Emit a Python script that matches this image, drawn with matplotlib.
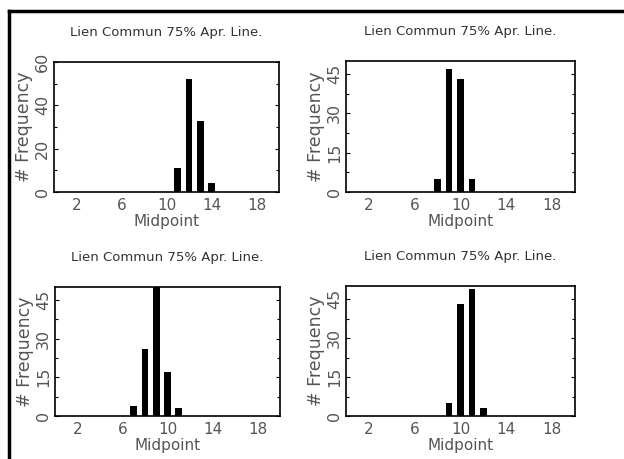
"""Four small midpoint histograms, IDL-style, 'Lien Commun 75% Apr. Line.'"""

import matplotlib
matplotlib.use("Agg")
import matplotlib.pyplot as plt
from matplotlib.lines import Line2D
from matplotlib.ticker import AutoMinorLocator

TITLE = "Lien Commun 75% Apr. Line."
XTICKS = [2, 6, 10, 14, 18]

# bar midpoints and frequencies, one pair per panel
mid_tl = [11, 12, 13, 14]
freq_tl = [11, 52, 33, 4]
mid_tr = [8, 9, 10, 11]
freq_tr = [5, 47, 43, 5]
mid_bl = [7, 8, 9, 10, 11]
freq_bl = [4, 26, 53, 17, 3]
mid_br = [9, 10, 11, 12]
freq_br = [5, 43, 49, 3]

yticks_tl = [0, 20, 40, 60]
yticks_rest = [0, 15, 30, 45]

W, H = 624, 459
TXT = "#555555"


def px_box(x0, y0, x1, y1):
    # pixel box (top-left origin) -> figure fraction rect
    return [x0 / W, 1 - y1 / H, (x1 - x0) / W, (y1 - y0) / H]


def panel(fig, box, mids, freqs, yticks, ylim):
    ax = fig.add_axes(px_box(*box))
    ax.bar(mids, freqs, width=0.58, color="black", linewidth=0)
    ax.set_xlim(0, 20)
    ax.set_ylim(*ylim)
    ax.set_xticks(XTICKS)
    ax.set_yticks(yticks)
    ax.yaxis.set_minor_locator(AutoMinorLocator(2))
    ax.tick_params(axis="y", which="both", direction="in", left=True, right=True,
                   labelsize=11.5, labelcolor=TXT, length=3, width=0.8, pad=3)
    ax.tick_params(axis="y", which="minor", length=2)
    ax.tick_params(axis="x", length=0, labelsize=11, labelcolor=TXT, pad=4)
    for lbl in ax.get_yticklabels():
        lbl.set_rotation(90)
        lbl.set_va("center")
    for sp in ax.spines.values():
        sp.set_linewidth(1.2)
    ax.set_xlabel("Midpoint", fontsize=11, color=TXT, labelpad=1)
    ax.set_ylabel("# Frequency", fontsize=12.5, color=TXT, labelpad=1)
    ax.set_title(TITLE, fontsize=9.5, color="#333333", pad=19)
    return ax


def main():
    fig = plt.figure(figsize=(6.24, 4.59), dpi=100)
    fig.patch.set_facecolor("white")

    panel(fig, (54, 62, 279, 192), mid_tl, freq_tl, yticks_tl, (0, 60))
    panel(fig, (346, 61, 575, 192), mid_tr, freq_tr, yticks_rest, (0, 50))
    panel(fig, (55, 287, 280, 416), mid_bl, freq_bl, yticks_rest, (0, 50))
    panel(fig, (346, 286, 575, 416), mid_br, freq_br, yticks_rest, (0, 50))

    # scanned page frame: left and top edges only
    fig.add_artist(Line2D([9 / W, 9 / W], [0, 1 - 11 / H], transform=fig.transFigure,
                          color="black", lw=2.5))
    fig.add_artist(Line2D([9 / W, 1], [1 - 11 / H, 1 - 11 / H], transform=fig.transFigure,
                          color="black", lw=2.5))

    fig.savefig("out.png", dpi=100, facecolor="white")


if __name__ == "__main__":
    main()
